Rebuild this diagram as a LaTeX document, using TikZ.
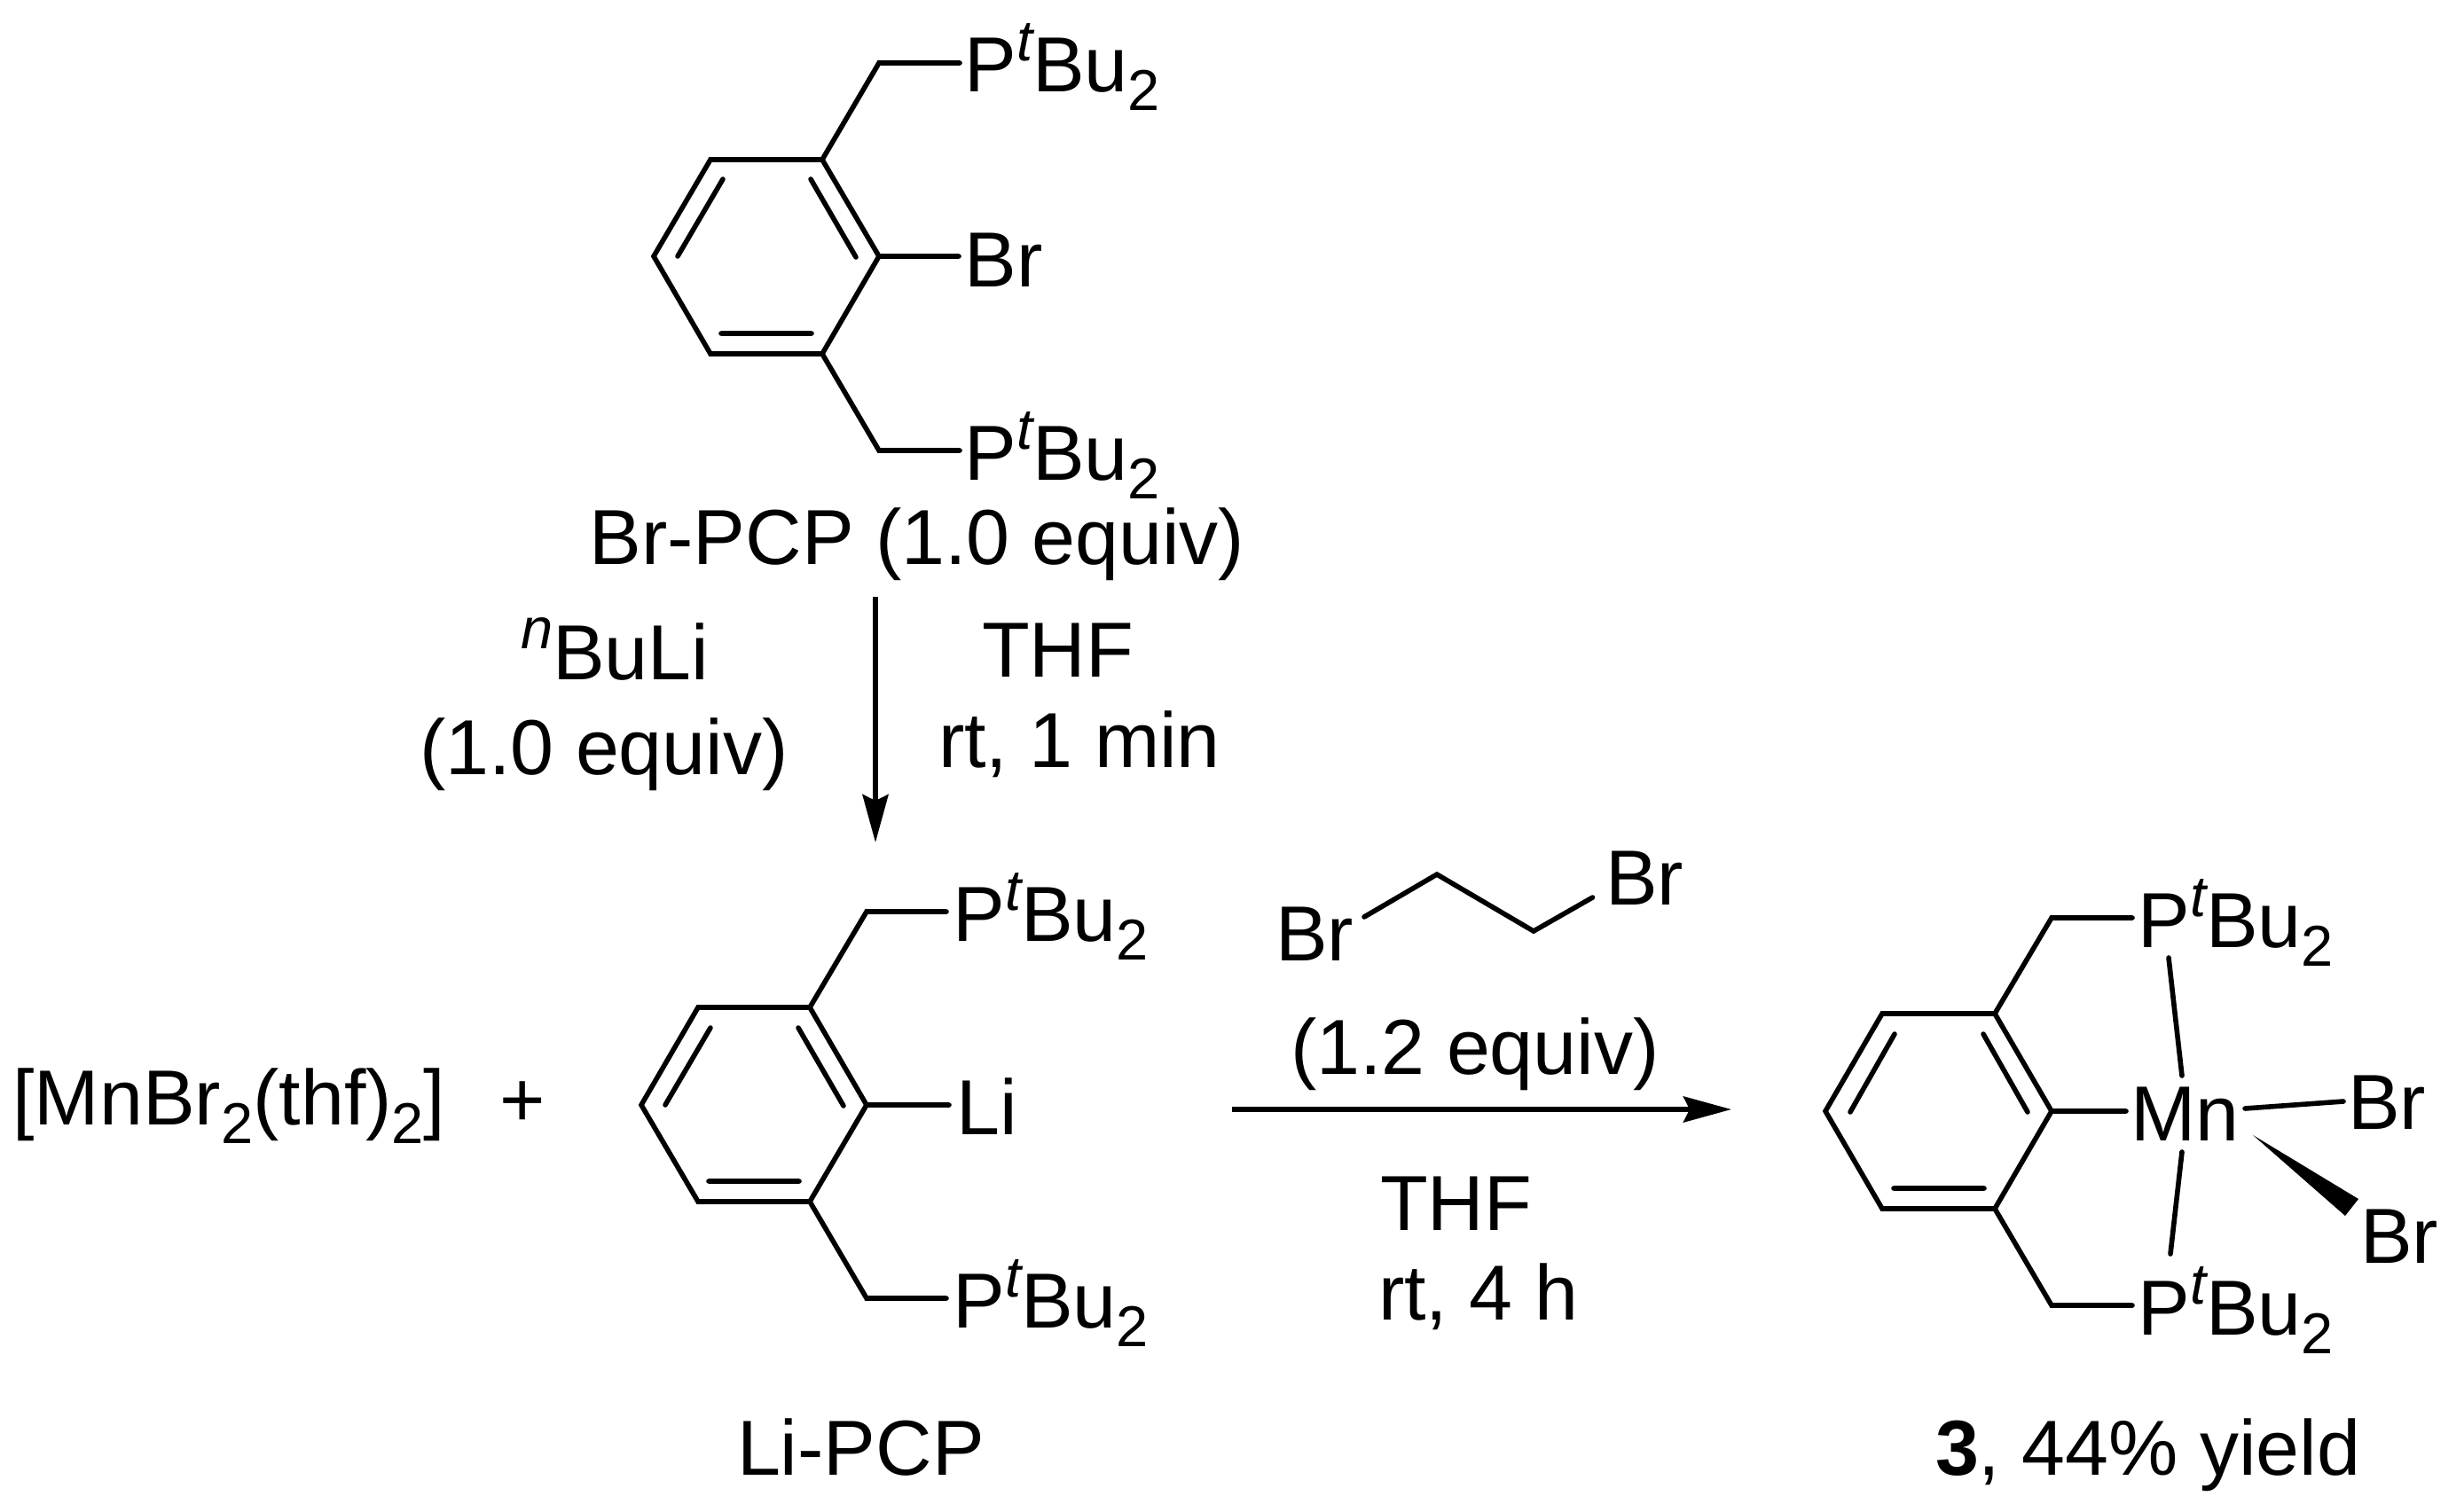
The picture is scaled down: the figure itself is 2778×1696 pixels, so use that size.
\documentclass[tikz,border=0pt]{standalone}
\usepackage{fontspec}
\setmainfont{Liberation Sans}
\usetikzlibrary{arrows.meta}
\tikzset{
  x=0.5pt,y=-0.5pt,
  lab/.style={anchor=base west,inner sep=0pt,outer sep=0pt,font=\fontsize{44}{50}\selectfont},
  bond/.style={line width=2.8pt,line join=miter,line cap=round},
  rxn/.style={line width=2.8pt,-{Stealth[length=27pt,width=14.5pt,inset=3.5pt]}}
}
\newcommand{\supit}[1]{\raisebox{17.5pt}{\fontsize{32.5}{32.5}\selectfont\itshape #1}}
\newcommand{\subtwo}{\raisebox{-10.5pt}{\fontsize{32.5}{32.5}\selectfont 2}}
\newcommand{\PtBu}{P\supit{t}Bu\subtwo}
\begin{document}
\begin{tikzpicture}
\useasboundingbox (0,0) rectangle (2778,1696);
% Br-PCP
\foreach \n/\x/\y in {a1/927/180,a2/801/180,a3/737/289,a4/801/399,a5/927/399,a6/991/289,a7/991/71,a8/1082/71,a9/991/508,a10/1082/508,a11/1081/289,
 d1/815/202,d2/764/289,d3/914/202,d4/965/290,d5/813/376,d6/915/376}{\coordinate (\n) at (\x,\y);}
\draw[bond] (a1)--(a2)--(a3)--(a4)--(a5)--(a6)--cycle;
\draw[bond] (a8)--(a7)--(a1) (a5)--(a9)--(a10) (a6)--(a11) (d1)--(d2) (d3)--(d4) (d5)--(d6);
\node[lab] (brp1) at (1087.5,104) {\PtBu};
\node[lab] (brbr) at (1087.5,323) {Br};
\node[lab] (brp2) at (1087.5,541) {\PtBu};
\node[lab] (brname) at (664.6,636) {Br-PCP (1.0 equiv)};
% Arrow 1
\coordinate (v1) at (987,673); \coordinate (v2) at (987,950);
\draw[rxn] (v1)--(v2);
\node[lab] (nbuli) at (587,766) {\supit{n}BuLi};
\node[lab] (eq1) at (473,873) {(1.0 equiv)};
\node[lab] (thf1) at (1107,763) {THF};
\node[lab] (rt1) at (1058,865) {rt, 1 min};
% Li-PCP
\foreach \n/\x/\y in {b1/913/1136,b2/787/1136,b3/723/1246,b4/787/1355,b5/913/1355,b6/977/1246,b7/977/1028,b8/1067/1028,b9/977/1464,b10/1067/1464,b11/1070/1246,
 e1/801/1159,e2/750/1246,e3/900/1159,e4/951/1247,e5/799/1332,e6/901/1332}{\coordinate (\n) at (\x,\y);}
\draw[bond] (b1)--(b2)--(b3)--(b4)--(b5)--(b6)--cycle;
\draw[bond] (b8)--(b7)--(b1) (b5)--(b9)--(b10) (b6)--(b11) (e1)--(e2) (e3)--(e4) (e5)--(e6);
\node[lab] (lip1) at (1074.4,1061) {\PtBu};
\node[lab] (lili) at (1078.6,1279) {Li};
\node[lab] (lip2) at (1074.4,1497) {\PtBu};
\node[lab] (liname) at (831,1663) {Li-PCP};
\node[lab] (mn) at (14.5,1268) {[MnBr\subtwo(thf)\subtwo]};
\node[lab,anchor=center] (plus) at (589,1245) {+};
% Arrow 2
\coordinate (h1) at (1389,1251); \coordinate (h2) at (1952,1251);
\draw[rxn] (h1)--(h2);
\foreach \n/\x/\y in {c1/1538/1034,c2/1620/986,c3/1729/1050,c4/1795.5/1012}{\coordinate (\n) at (\x,\y);}
\draw[bond] (c1)--(c2)--(c3)--(c4);
\node[lab] (dbl) at (1438,1083) {Br};
\node[lab] (dbr) at (1810,1020) {Br};
\node[lab] (eq2) at (1455,1211) {(1.2 equiv)};
\node[lab] (thf2) at (1556,1387.5) {THF};
\node[lab] (rt2) at (1554,1488.6) {rt, 4 h};
% Complex 3
\foreach \n/\x/\y in {m1/2249/1143,m2/2122/1143,m3/2058/1253,m4/2122/1363,m5/2249/1363,m6/2313/1253,m7/2313/1035,m8/2404/1035,m9/2313/1472,m10/2404/1472,m11/2397/1253,
 f1/2136/1166,f2/2086/1254,f3/2236/1166,f4/2286/1254,f5/2135/1340,f6/2237/1340,
 g1/2445/1080,g2/2460/1213,g3/2460/1299,g4/2447/1414,g5/2531/1250,g6/2642/1242,
 w1/2540/1280,w2/2659/1352,w3/2644/1371}{\coordinate (\n) at (\x,\y);}
\draw[bond] (m1)--(m2)--(m3)--(m4)--(m5)--(m6)--cycle;
\draw[bond] (m8)--(m7)--(m1) (m5)--(m9)--(m10) (m6)--(m11) (f1)--(f2) (f3)--(f4) (f5)--(f6) (g1)--(g2) (g3)--(g4) (g5)--(g6);
\fill (w1)--(w2)--(w3)--cycle;
\node[lab] (cp1) at (2410.4,1068) {\PtBu};
\node[lab] (cmn) at (2402,1286) {Mn};
\node[lab] (cbr1) at (2647,1273) {Br};
\node[lab] (cbr2) at (2661,1424) {Br};
\node[lab] (cp2) at (2410.4,1505) {\PtBu};
\node[lab] (cname) at (2182,1663) {\textbf{3}, 44\% yield};
\end{tikzpicture}
\end{document}
